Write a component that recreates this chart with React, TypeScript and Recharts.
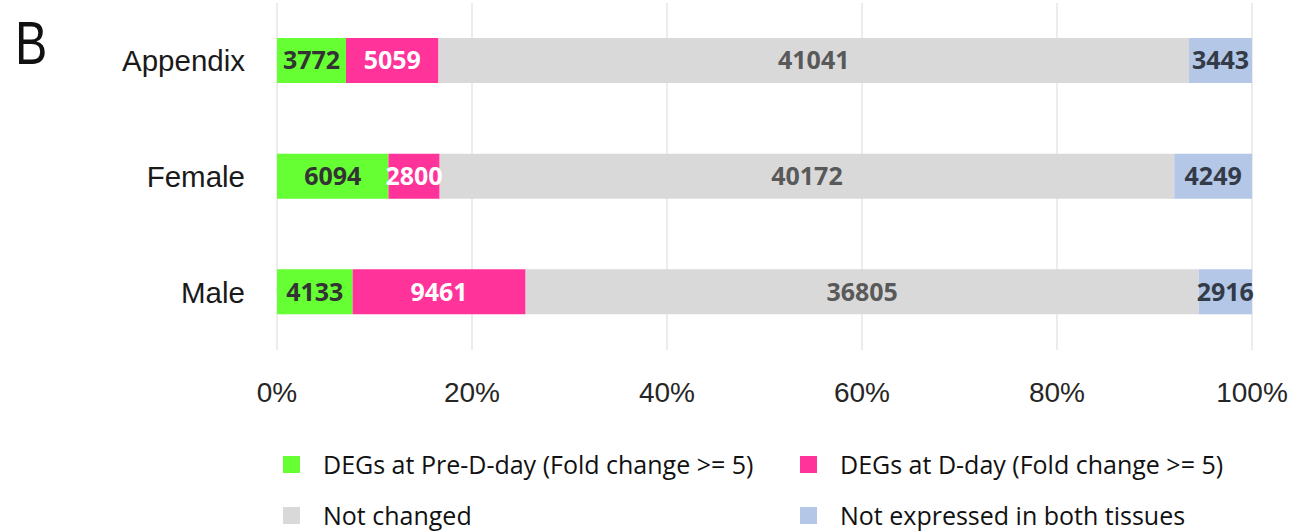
import { BarChart, Bar, XAxis, YAxis, CartesianGrid, LabelList, Legend } from 'recharts';

// tissues, top to bottom
const categories = ['Appendix', 'Female', 'Male'];
// gene counts per tissue
const preDday = [3772, 6094, 4133];
const dDay = [5059, 2800, 9461];
const notChanged = [41041, 40172, 36805];
const notExpressed = [3443, 4249, 2916];
const xTicks = [0, 0.2, 0.4, 0.6, 0.8, 1];

const series = [
    { key: 'pre', name: 'DEGs at Pre-D-day (Fold change >= 5)', color: '#66ff33', text: '#333333' },
    { key: 'dday', name: 'DEGs at D-day (Fold change >= 5)', color: '#ff3399', text: '#ffffff' },
    { key: 'notChanged', name: 'Not changed', color: '#d9d9d9', text: '#595959' },
    { key: 'notExpressed', name: 'Not expressed in both tissues', color: '#b4c7e7', text: '#333a48' },
];

const data = categories.map((name, i) => ({
    name,
    pre: preDday[i],
    dday: dDay[i],
    notChanged: notChanged[i],
    notExpressed: notExpressed[i],
}));

// 2x2 legend, same spots as the figure
const legendSpots = [
    { x: 283, y: 464 },
    { x: 800, y: 464 },
    { x: 283, y: 515 },
    { x: 800, y: 515 },
];

function renderLegend() {
    return (
        <div style={{ position: 'relative', width: 1290, height: 86 }}>
            {series.map((s, i) => (
                <div
                    key={s.key}
                    style={{
                        position: 'absolute',
                        left: legendSpots[i].x,
                        top: legendSpots[i].y - 445 - 16,
                        height: 32,
                        display: 'flex',
                        alignItems: 'center',
                        whiteSpace: 'nowrap',
                    }}
                >
                    <span style={{ width: 17, height: 17, background: s.color, display: 'inline-block' }} />
                    <span style={{ marginLeft: 23, fontFamily: '"Open Sans", sans-serif', fontSize: 25, color: '#111' }}>
                        {s.name}
                    </span>
                </div>
            ))}
        </div>
    );
}

export default function App() {
    return (
        <div style={{ position: 'absolute', left: 0, top: 0, width: 1290, height: 531, background: '#fff' }}>
            <div
                style={{
                    position: 'absolute',
                    left: 15,
                    top: 7,
                    fontFamily: '"Liberation Sans", Arial, sans-serif',
                    fontSize: 62,
                    lineHeight: 'normal',
                    color: '#111',
                    transform: 'scaleX(0.78)',
                    transformOrigin: 'left top',
                    zIndex: 2,
                }}
            >
                B
            </div>
            <BarChart
                width={1290}
                height={531}
                data={data}
                layout="vertical"
                stackOffset="expand"
                barSize={45}
                margin={{ top: 3, right: 38, left: 0, bottom: 121 }}
            >
                <CartesianGrid horizontal={false} stroke="#d9d9d9" strokeWidth={1} />
                <XAxis
                    type="number"
                    domain={[0, 1]}
                    ticks={xTicks}
                    tickFormatter={(v: number) => `${Math.round(v * 100)}%`}
                    axisLine={false}
                    tickLine={false}
                    tickSize={0}
                    tickMargin={32}
                    height={60}
                    interval={0}
                    tick={{ fontFamily: '"Liberation Sans", Arial, sans-serif', fontSize: 28, fill: '#262626' }}
                />
                <YAxis
                    type="category"
                    dataKey="name"
                    width={277}
                    axisLine={false}
                    tickLine={false}
                    tickSize={0}
                    tickMargin={32}
                    tick={{ fontFamily: '"Liberation Sans", Arial, sans-serif', fontSize: 29.5, fill: '#1a1a1a' }}
                />
                {series.map((s) => (
                    <Bar key={s.key} dataKey={s.key} name={s.name} stackId="a" fill={s.color} isAnimationActive={false}>
                        <LabelList
                            dataKey={s.key}
                            position="center"
                            fill={s.text}
                            style={{ fontFamily: '"Open Sans", sans-serif', fontSize: 25, fontWeight: 700 }}
                        />
                    </Bar>
                ))}
                <Legend
                    layout="vertical"
                    align="center"
                    verticalAlign="middle"
                    wrapperStyle={{ left: 0, top: 445, width: 1290, height: 86 }}
                    content={renderLegend}
                />
            </BarChart>
        </div>
    );
}
